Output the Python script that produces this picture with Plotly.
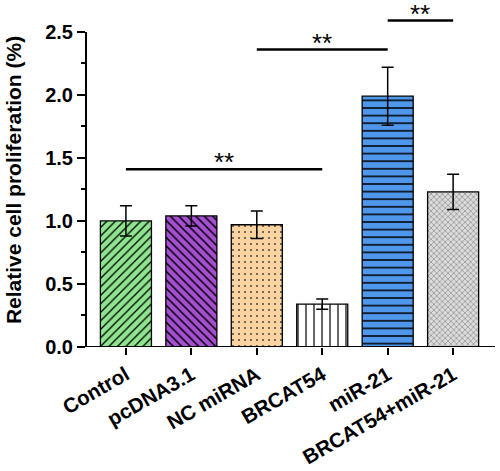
import plotly.graph_objects as go

categories = ["Control", "pcDNA3.1", "NC miRNA", "BRCAT54", "miR-21", "BRCAT54+miR-21"]
values = [1.00, 1.04, 0.97, 0.34, 1.99, 1.23]
errors = [0.12, 0.08, 0.11, 0.04, 0.23, 0.14]
y_ticks = [0.0, 0.5, 1.0, 1.5, 2.0, 2.5]
y_tick_labels = ["0.0", "0.5", "1.0", "1.5", "2.0", "2.5"]

# significance brackets: (start index, end index, y level, label)
sig_start = [0, 2, 4]
sig_end = [3, 4, 5]
sig_level = [1.41, 2.36, 2.59]
sig_label = ["**", "**", "**"]

bg_colors = ["#8fe58f", "#a64fd3", "#fbd3a0", "#ffffff", "#4f97ea", "#dcdcdc"]
fg_colors = ["black", "black", "#333333", "black", "black", "#444444"]
pattern_shapes = ["/", "\\", ".", "|", "-", "x"]
pattern_sizes = [6, 6, 6, 8, 7.6, 4]
pattern_solid = [0.22, 0.25, 0.07, 0.15, 0.2, 0.18]

FONT = "Liberation Sans, Arial, sans-serif"

fig = go.Figure()
for i, c in enumerate(categories):
    fig.add_trace(go.Bar(
        x=[i], y=[values[i]],
        width=0.78,
        marker=dict(
            color=bg_colors[i],
            line=dict(color="black", width=1.3),
            pattern=dict(shape=pattern_shapes[i], bgcolor=bg_colors[i], fgcolor=fg_colors[i],
                         size=pattern_sizes[i], solidity=pattern_solid[i], fillmode="replace"),
        ),
        error_y=dict(type="data", array=[errors[i]], color="black", thickness=1.5, width=6),
        showlegend=False,
    ))

for s, e, lv, lb in zip(sig_start, sig_end, sig_level, sig_label):
    fig.add_shape(type="line", x0=s, x1=e, y0=lv, y1=lv, xref="x", yref="y",
                  line=dict(color="black", width=2.5))
    fig.add_annotation(x=(s + e) / 2, y=lv, text=lb, showarrow=False, xref="x", yref="y",
                       yanchor="bottom", yshift=-9, borderpad=0,
                       font=dict(family=FONT, size=26, color="black"))

# y-axis line only from 0 to 2.5
fig.add_shape(type="line", xref="paper", yref="y", x0=0, x1=0, y0=0, y1=2.5,
              line=dict(color="black", width=2))
# x-axis line extending slightly left
fig.add_shape(type="line", xref="paper", yref="y", x0=-0.015, x1=1, y0=0, y1=0,
              line=dict(color="black", width=2))

fig.update_layout(
    width=500, height=471,
    margin=dict(l=86, r=5, t=13, b=124),
    plot_bgcolor="white", paper_bgcolor="white",
    font=dict(family=FONT, color="black"),
    xaxis=dict(
        range=[-0.61, 5.64], automargin=False,
        tickmode="array", tickvals=list(range(len(categories))), ticktext=categories,
        tickangle=-30,
        tickfont=dict(family=FONT, size=20.5, color="black", weight="bold"),
        ticks="outside", ticklen=7, tickwidth=2, tickcolor="black",
        showline=False, showgrid=False, zeroline=False,
    ),
    yaxis=dict(
        range=[0, 2.65], automargin=False,
        tickmode="array", tickvals=y_ticks, ticktext=y_tick_labels,
        tickfont=dict(family=FONT, size=20, color="black", weight="bold"),
        ticks="outside", ticklen=8, tickwidth=2, tickcolor="black",
        minor=dict(tickmode="array", tickvals=[0.25, 0.75, 1.25, 1.75, 2.25],
                   ticks="outside", ticklen=4, tickwidth=1.5, tickcolor="black"),
        showline=False, showgrid=False, zeroline=False,
        title=dict(text="Relative cell proliferation (%)",
                   font=dict(family=FONT, size=21, color="black", weight="bold"),
                   standoff=17),
    ),
)

# remove the default 8px page margin so the figure fills the window exactly
fig.write_html("out.html", config={"displayModeBar": False},
               post_script="document.body.style.margin='0';")
